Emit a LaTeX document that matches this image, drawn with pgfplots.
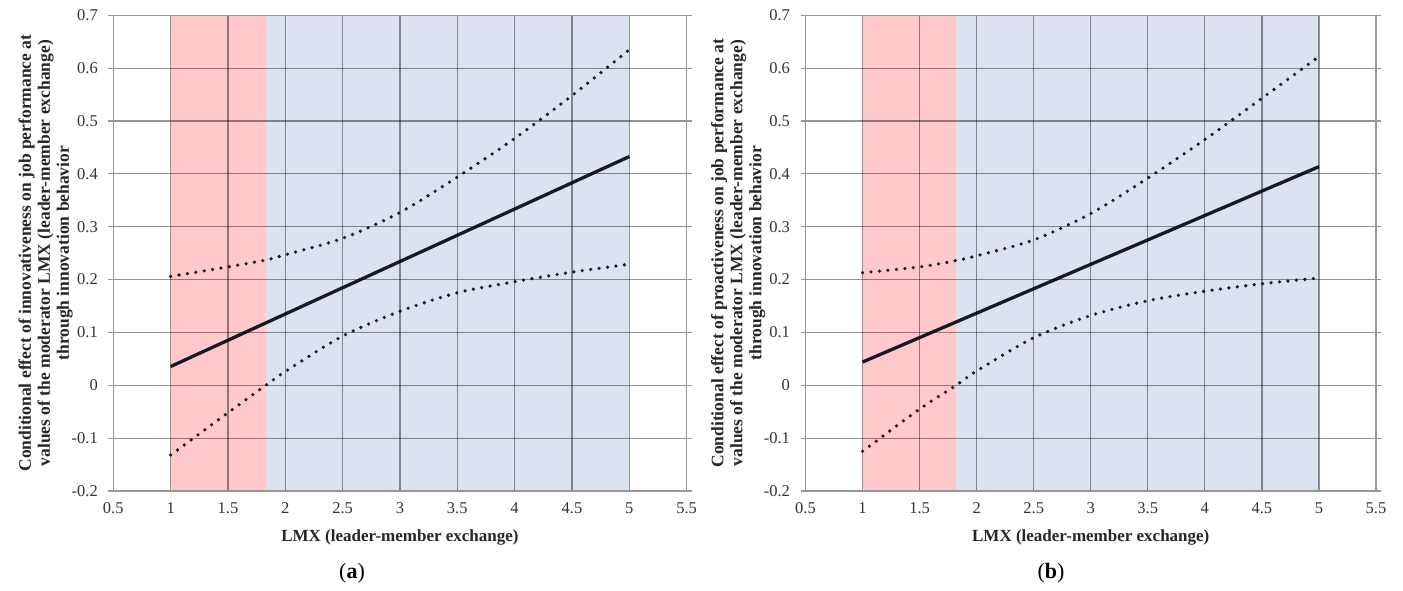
\documentclass[border=0pt]{standalone}
\usepackage{fontspec}
\setmainfont{Liberation Serif}
\usepackage{pgfplots}
\pgfplotsset{compat=1.18}
\definecolor{pinkband}{RGB}{255,200,202}
\definecolor{blueband}{RGB}{219,226,240}
\definecolor{framec}{RGB}{150,150,150}
\definecolor{curvec}{RGB}{25,25,35}
\pgfplotsset{
  panel/.style={
    scale only axis, height=475.7pt, anchor=south west,
    xmin=0.5, xmax=5.5, ymin=-0.2, ymax=0.7,
    xtick={0.5,1,1.5,2,2.5,3,3.5,4,4.5,5,5.5},
    xticklabels={0.5,1,1.5,2,2.5,3,3.5,4,4.5,5,5.5},
    ytick={-0.2,-0.1,0,0.1,0.2,0.3,0.4,0.5,0.6,0.7},
    yticklabels={-0.2,-0.1,0,0.1,0.2,0.3,0.4,0.5,0.6,0.7},
    grid=major,
    major grid style={black, opacity=0.42, line width=1.2pt},
    axis line style={framec, line width=1.2pt},
    axis on top,
    x tick style={draw=none},
    y tick style={framec, line width=1.1pt},
    ytick align=outside, major tick length=5pt,
    tick label style={font=\fontsize{16.5}{16.5}\selectfont, text=black!80},
    xticklabel style={yshift=-8pt},
    yticklabel style={xshift=-7pt},
    xlabel style={font=\bfseries\fontsize{17}{17}\selectfont, at={(axis description cs:0.5,0)}, anchor=center, yshift=-46pt, text=black!85},
    ylabel style={font=\bfseries\fontsize{17.5}{19}\selectfont, align=center, at={(axis description cs:-0.118,0.5)}, anchor=center, rotate=0, text=black!85},
    xlabel={LMX (leader-member exchange)},
  },
  ci/.style={curvec, line width=3.6pt, dash pattern=on 0pt off 8.5pt, line cap=round, smooth},
  est/.style={curvec, line width=3.3pt},
}
\begin{document}
\begin{tikzpicture}
\path[use as bounding box] (0pt,0pt) rectangle (1403pt,591pt);
\begin{axis}[panel, at={(113.3pt,100pt)}, width=573.3pt,
  ylabel={Conditional effect of innovativeness on job performance at\\values of the moderator LMX (leader-member exchange)\\through innovation behavior}]
\addplot[fill=pinkband, draw=none] coordinates {(1,-0.2) (1,0.7) (1.83,0.7) (1.83,-0.2)} --cycle;
\addplot[fill=blueband, draw=none] coordinates {(1.83,-0.2) (1.83,0.7) (5,0.7) (5,-0.2)} --cycle;
\addplot[ci] coordinates {(1,0.206) (1.5,0.224) (1.83,0.237) (2,0.247) (2.5,0.278) (3,0.327) (3.5,0.394) (4,0.467) (4.5,0.548) (5,0.635)};
\addplot[ci] coordinates {(1,-0.132) (1.5,-0.052) (1.83,0.0) (2,0.026) (2.5,0.093) (3,0.140) (3.5,0.175) (4,0.196) (4.5,0.214) (5,0.229)};
\addplot[est] coordinates {(1,0.0355) (1.83,0.118) (5,0.4327)};
\node[font=\fontsize{14.5}{14.5}\selectfont, text=black!80] at (axis cs:1.83,-0.2) [yshift=-9pt] {1.83};
\end{axis}
\begin{axis}[panel, at={(805.5pt,100pt)}, width=570.5pt,
  ylabel={Conditional effect of proactiveness on job performance at\\values of the moderator LMX (leader-member exchange)\\through innovation behavior}]
\addplot[fill=pinkband, draw=none] coordinates {(1,-0.2) (1,0.7) (1.82,0.7) (1.82,-0.2)} --cycle;
\addplot[fill=blueband, draw=none] coordinates {(1.82,-0.2) (1.82,0.7) (5,0.7) (5,-0.2)} --cycle;
\addplot[ci] coordinates {(1,0.213) (1.5,0.224) (1.82,0.236) (2,0.245) (2.5,0.275) (3,0.325) (3.5,0.392) (4,0.465) (4.5,0.543) (5,0.622)};
\addplot[ci] coordinates {(1,-0.125) (1.5,-0.045) (1.82,0.0) (2,0.027) (2.5,0.090) (3,0.132) (3.5,0.160) (4,0.178) (4.5,0.192) (5,0.203)};
\addplot[est] coordinates {(1,0.044) (1.82,0.1198) (5,0.4136)};
\node[font=\fontsize{14.5}{14.5}\selectfont, text=black!80] at (axis cs:1.82,-0.2) [yshift=-9pt] {1.82};
\end{axis}
\node[font=\fontsize{22}{22}\selectfont] at (352pt,18pt) {(\textbf{a})};
\node[font=\fontsize{22}{22}\selectfont] at (1051pt,18pt) {(\textbf{b})};
\end{tikzpicture}
\end{document}
